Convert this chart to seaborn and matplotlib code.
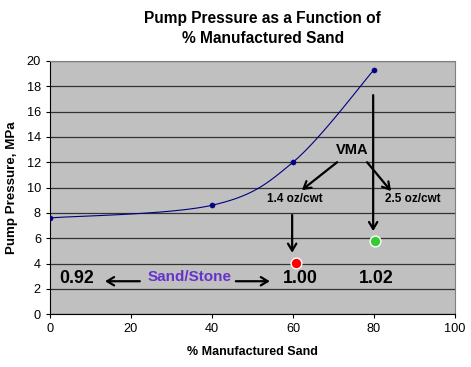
"""Pump pressure vs. % manufactured sand, with VMA dosage annotations."""

import matplotlib
matplotlib.use("Agg")
import matplotlib.pyplot as plt
import numpy as np
import pandas as pd
import seaborn as sns

# measured pump pressure series
pct_sand = [0, 40, 60, 80]
pressure = [7.6, 8.6, 12.0, 19.3]

# mixes with VMA added
vma_pct = [60.7, 80.2]
vma_pressure = [4.03, 5.77]
vma_colors = ["#FF0000", "#33CC33"]
vma_doses = ["1.4 oz/cwt", "2.5 oz/cwt"]

# sand/stone ratios
ratio_labels = ["0.92", "1.00", "1.02"]
ratio_x = [6.7, 61.7, 80.5]

x_ticks = [0, 20, 40, 60, 80, 100]
y_ticks = list(range(0, 21, 2))


def excel_smooth(x, y, n=40):
    """Catmull-Rom style bezier through the points, like Excel's smoothed line."""
    x = np.asarray(x, float)
    y = np.asarray(y, float)
    px = np.concatenate([[x[0]], x, [x[-1]]])
    py = np.concatenate([[y[0]], y, [y[-1]]])
    xs, ys = [], []
    t = np.linspace(0, 1, n)
    for i in range(1, len(px) - 2):
        p0 = np.array([px[i], py[i]])
        p3 = np.array([px[i + 1], py[i + 1]])
        c1 = p0 + (np.array([px[i + 1], py[i + 1]]) - np.array([px[i - 1], py[i - 1]])) / 6
        c2 = p3 - (np.array([px[i + 2], py[i + 2]]) - np.array([px[i], py[i]])) / 6
        b = ((1 - t) ** 3)[:, None] * p0 + (3 * (1 - t) ** 2 * t)[:, None] * c1 \
            + (3 * (1 - t) * t ** 2)[:, None] * c2 + (t ** 3)[:, None] * p3
        xs.append(b[:, 0])
        ys.append(b[:, 1])
    return np.concatenate(xs), np.concatenate(ys)


sns.set_style("ticks")
plt.rcParams["font.family"] = ["Liberation Sans", "DejaVu Sans"]
plt.rcParams.update({"text.color": "black", "axes.labelcolor": "black",
                     "xtick.color": "black", "ytick.color": "black"})

fig = plt.figure(figsize=(4.71, 3.67), dpi=100)
ax = fig.add_axes([0.106, 0.144, 0.86, 0.69])
ax.set_facecolor("#C0C0C0")

df = pd.DataFrame({"pct": pct_sand, "p": pressure})
sx, sy = excel_smooth(pct_sand, pressure)
ax.plot(sx, sy, color="#000080", lw=0.8, zorder=3)
sns.scatterplot(data=df, x="pct", y="p", ax=ax, color="#000080", marker="o",
                s=14, edgecolor="#000080", zorder=4, legend=False)

for xv, yv, c in zip(vma_pct, vma_pressure, vma_colors):
    ax.scatter(xv, yv, s=60, color=c, edgecolor="white", linewidth=1, zorder=5)

ax.set_xlim(0, 100)
ax.set_ylim(0, 20)
ax.set_xticks(x_ticks)
ax.set_yticks(y_ticks)
ax.tick_params(labelsize=9.2, length=3, width=0.8, color="black")
ax.yaxis.grid(True, color="#333333", lw=0.9)
ax.set_axisbelow(True)
for side in ["left", "bottom"]:
    ax.spines[side].set_color("black")
    ax.spines[side].set_linewidth(0.8)
for side in ["right", "top"]:
    ax.spines[side].set_visible(True)
    ax.spines[side].set_color("#808080")
    ax.spines[side].set_linewidth(0.8)

ax.set_xlabel("% Manufactured Sand", fontsize=9, fontweight="bold", labelpad=8)
ax.set_ylabel("Pump Pressure, MPa", fontsize=9.6, fontweight="bold", labelpad=6)
fig.text(0.558, 0.922, "Pump Pressure as a Function of\n% Manufactured Sand",
         ha="center", va="center", fontsize=11.2, fontweight="bold", linespacing=1.45)

arrow = dict(arrowstyle="->,head_length=0.5,head_width=0.3", color="black", lw=1.6,
             shrinkA=0, shrinkB=0)

# VMA labels and arrows
ax.text(74.6, 12.96, "VMA", ha="center", va="center", fontsize=10.5, fontweight="bold")
ax.text(60.5, 9.1, vma_doses[0], ha="center", va="center", fontsize=8.5, fontweight="bold")
ax.text(89.6, 9.1, vma_doses[1], ha="center", va="center", fontsize=8.5, fontweight="bold")
ax.annotate("", xy=(62.2, 9.8), xytext=(70.9, 12.0), arrowprops=arrow)
ax.annotate("", xy=(84.2, 9.72), xytext=(78.3, 12.0), arrowprops=arrow)
ax.annotate("", xy=(79.8, 6.56), xytext=(79.8, 17.3), arrowprops=arrow, zorder=4)
ax.annotate("", xy=(59.8, 4.85), xytext=(59.8, 7.83), arrowprops=arrow)

# sand/stone ratios
for lbl, xv in zip(ratio_labels, ratio_x):
    ax.text(xv, 2.85, lbl, ha="center", va="center", fontsize=12.8, fontweight="bold")
ax.text(34.6, 2.92, "Sand/Stone", ha="center", va="center", fontsize=11,
        fontweight="bold", color="#6633CC")
ax.annotate("", xy=(13.6, 2.6), xytext=(22.2, 2.6), arrowprops=arrow)
ax.annotate("", xy=(54.3, 2.6), xytext=(45.9, 2.6), arrowprops=arrow)

fig.savefig("out.png", dpi=100)
